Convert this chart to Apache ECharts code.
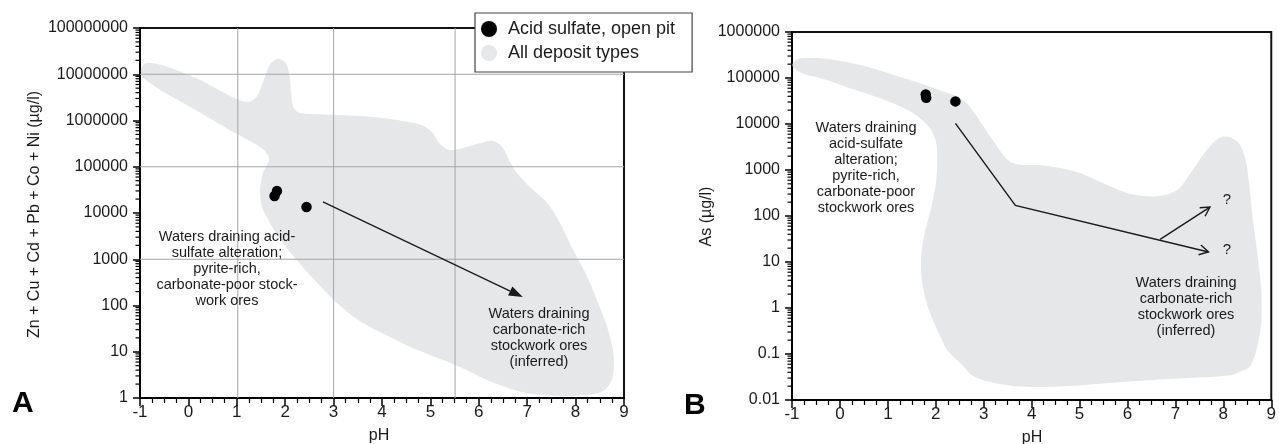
<!DOCTYPE html>
<html><head><meta charset="utf-8">
<script src="https://cdn.jsdelivr.net/npm/echarts@6/dist/echarts.min.js"></script>
<style>html,body{margin:0;padding:0;background:#fff}#c{width:1279px;height:444px}</style>
</head><body><div id="c"></div>
<script>
// ---------------- data ----------------
const xTickLabels = ['-1','0','1','2','3','4','5','6','7','8','9'];
const yTickLabelsA = ['1','10','100','1000','10000','100000','1000000','10000000','100000000'];
const yTickLabelsB = ['0.01','0.1','1','10','100','1000','10000','100000','1000000'];

// Acid sulfate, open pit samples
const pointsA_pH = [1.78, 1.83, 2.44];
const pointsA_metals = [23300, 30000, 13500];
const pointsB_pH = [1.79, 1.80, 2.41];
const pointsB_As = [43600, 37000, 31000];

// All deposit types field outlines
const fieldA_pH = [-0.98,-0.92,-0.75,-0.38,0.24,0.86,1.23,1.42,1.56,1.69,1.85,2.00,2.08,2.12,2.16,2.26,2.51,3.07,3.75,4.43,4.83,5.03,5.20,5.40,5.69,6.02,6.29,6.48,6.62,6.79,7.06,7.41,7.68,7.95,8.24,8.44,8.65,8.77,8.79,8.73,8.57,8.26,7.78,7.26,6.75,6.17,5.61,5.26,4.72,4.17,3.61,3.07,2.66,2.24,1.95,1.69,1.52,1.48,1.54,1.67,1.58,1.38,0.86,0.18,-0.52,-0.86,-0.96];
const fieldA_metals = [1.23e7,1.66e7,1.74e7,1.38e7,7.59e6,3.39e6,2.51e6,3.39e6,7.59e6,1.66e7,2.14e7,1.82e7,1.07e7,4.17e6,2.04e6,1.51e6,1.38e6,1.32e6,1.20e6,9.77e5,7.94e5,5.62e5,3.09e5,2.29e5,2.57e5,3.24e5,3.63e5,2.69e5,1.41e5,7.24e4,3.63e4,1.66e4,6030,1580,417,132,34.7,11.0,4.47,2.24,1.41,1.16,1.10,1.16,1.48,2.45,4.68,6.61,11.0,20.9,41.7,112,309,955,2240,6030,1.35e4,3.16e4,7.24e4,1.41e5,2.19e5,3.09e5,6.17e5,1.62e6,4.17e6,7.24e6,9.12e6];
const fieldB_pH = [-0.83,-0.21,0.48,1.17,1.72,2.20,2.48,2.69,2.96,3.24,3.51,3.72,4.27,4.96,5.52,6.07,6.62,7.03,7.31,7.59,7.86,8.07,8.31,8.45,8.54,8.61,8.72,8.79,8.79,8.69,8.55,8.34,8.14,7.45,6.41,5.38,4.48,3.65,3.10,2.75,2.55,2.27,2.13,1.86,1.72,1.69,1.75,1.89,2.00,2.03,2.00,1.86,1.51,0.96,0.27,-0.35,-0.77,-0.94,-0.99];
const fieldB_As = [2.69e5,2.57e5,1.86e5,1.12e5,7.41e4,4.90e4,3.80e4,2.51e4,1.0e4,3720,1620,1320,1260,891,501,302,269,363,832,2240,4570,5370,3980,1910,501,95.5,12.9,2.45,0.457,0.122,0.0525,0.0407,0.0347,0.0309,0.0269,0.0224,0.0195,0.0200,0.0251,0.0347,0.0575,0.110,0.200,0.891,3.39,11.0,34.7,132,501,1620,4370,8510,1.78e4,3.24e4,5.75e4,9.55e4,1.23e5,1.58e5,2.00e5];

// reference grid lines in panel A
const gridLinesA_pH = [1.02, 3.0, 5.51];
const gridLinesA_metals = [1000, 100000, 10000000];

// trend arrows
const arrowA_pH = [2.78, 6.91];
const arrowA_metals = [17400, 152];
const arrowB_pH = [2.41, 3.66, 7.69];
const arrowB_As = [10350, 170, 16.5];
const arrowB2_pH = [6.68, 7.72];
const arrowB2_As = [31, 156];

// ---------------- chart ----------------
const FONT = '"Liberation Sans", Arial, Helvetica, sans-serif';
const INK = '#1a1a1a';
const FIELD = '#e6e7e8';

const chart = echarts.init(document.getElementById('c'), null, {renderer: 'canvas'});

function xAxisCfg(gi) {
  return {
    type: 'value', gridIndex: gi, min: -1, max: 9, interval: 1,
    axisLine: {show: true, onZero: false, lineStyle: {color: '#000', width: 2}},
    axisTick: {show: true, length: 8, lineStyle: {color: '#000', width: 1.5}},
    minorTick: {show: true, splitNumber: 4, length: 5, lineStyle: {color: '#000', width: 1.2}},
    splitLine: {show: false},
    axisLabel: {margin: 6, fontSize: 17, color: INK, fontFamily: FONT,
      formatter: v => xTickLabels[Math.round(v) + 1]}
  };
}
function yAxisCfg(gi, minExp, maxExp, labels) {
  return {
    type: 'log', gridIndex: gi, logBase: 10,
    min: Math.pow(10, minExp), max: Math.pow(10, maxExp), splitNumber: maxExp - minExp,
    axisLine: {show: true, onZero: false, lineStyle: {color: '#000', width: 2}},
    axisTick: {show: true, length: 7, lineStyle: {color: '#000', width: 1.5}},
    splitLine: {show: false},
    axisLabel: {margin: 12, fontSize: 16, color: INK, fontFamily: FONT, showMinLabel: true, showMaxLabel: true,
      formatter: v => labels[Math.round(Math.log10(v)) - minExp]}
  };
}
function fieldSeries(gi, xs, ys) {
  return {
    type: 'custom', name: 'All deposit types', xAxisIndex: gi, yAxisIndex: gi, z: 1, silent: true,
    itemStyle: {color: FIELD},
    data: [[xs[0], ys[0]]],
    renderItem: (p, api) => ({
      type: 'polygon',
      shape: {points: xs.map((x, i) => api.coord([x, ys[i]])), smooth: 0.3},
      style: {fill: FIELD}
    })
  };
}
function gridLineSeries(gi, xs, ys, xr, yr) {
  return {
    type: 'custom', xAxisIndex: gi, yAxisIndex: gi, z: 2, silent: true,
    data: [[xr[0], yr[0]]],
    renderItem: (p, api) => {
      const ch = [];
      xs.forEach(x => {
        const a = api.coord([x, yr[0]]), b = api.coord([x, yr[1]]);
        ch.push({type: 'line', shape: {x1: a[0], y1: a[1], x2: b[0], y2: b[1]}, style: {stroke: '#a3a5a8', lineWidth: 1}});
      });
      ys.forEach(y => {
        const a = api.coord([xr[0], y]), b = api.coord([xr[1], y]);
        ch.push({type: 'line', shape: {x1: a[0], y1: a[1], x2: b[0], y2: b[1]}, style: {stroke: '#a3a5a8', lineWidth: 1}});
      });
      return {type: 'group', children: ch};
    }
  };
}
function minorLogTicks(gi, xMin, minExp, maxExp) {
  return {
    type: 'custom', xAxisIndex: gi, yAxisIndex: gi, z: 5, silent: true, clip: false,
    data: [[xMin, Math.pow(10, minExp)]],
    renderItem: (p, api) => {
      const ch = [];
      for (let e = minExp; e < maxExp; e++) for (let m = 2; m <= 9; m++) {
        const c = api.coord([xMin, m * Math.pow(10, e)]);
        ch.push({type: 'line', shape: {x1: c[0] - 4.5, y1: c[1], x2: c[0], y2: c[1]}, style: {stroke: '#000', lineWidth: 1.2}});
      }
      return {type: 'group', children: ch};
    }
  };
}
function arrowSeries(gi, xs, ys, head) {
  return {
    type: 'custom', xAxisIndex: gi, yAxisIndex: gi, z: 3, silent: true, clip: false,
    data: [[xs[0], ys[0]]],
    renderItem: (p, api) => {
      const pts = xs.map((x, i) => api.coord([x, ys[i]]));
      const n = pts.length, tip = pts[n - 1], prev = pts[n - 2];
      const dx = tip[0] - prev[0], dy = tip[1] - prev[1], L = Math.hypot(dx, dy);
      const ux = dx / L, uy = dy / L;
      const hl = head === 'filled' ? 14 : 9, hw = 5;
      const bx = tip[0] - ux * hl, by = tip[1] - uy * hl;
      const left = [bx - uy * hw, by + ux * hw], right = [bx + uy * hw, by - ux * hw];
      const ch = [];
      if (head === 'filled') {
        ch.push({type: 'polyline', shape: {points: pts.slice(0, n - 1).concat([[bx, by]])}, style: {stroke: INK, lineWidth: 1.3, fill: null}});
        ch.push({type: 'polygon', shape: {points: [tip, left, right]}, style: {fill: INK}});
      } else {
        ch.push({type: 'polyline', shape: {points: pts}, style: {stroke: INK, lineWidth: 1.4, fill: null}});
        ch.push({type: 'polyline', shape: {points: [left, tip, right]}, style: {stroke: INK, lineWidth: 1.4, fill: null}});
      }
      return {type: 'group', children: ch};
    }
  };
}
function pointSeries(gi, xs, ys) {
  return {
    type: 'scatter', name: 'Acid sulfate, open pit', xAxisIndex: gi, yAxisIndex: gi, z: 4,
    symbol: 'circle', symbolSize: 10.5, itemStyle: {color: '#000', opacity: 1}, silent: true,
    data: xs.map((x, i) => [x, ys[i]])
  };
}
function txt(x, y, text, extra) {
  return Object.assign({type: 'text', x: x, y: y, z: 100, silent: true,
    style: Object.assign({text: text, fill: INK, fontFamily: FONT, fontSize: 14.5, lineHeight: 16,
      align: 'center', verticalAlign: 'top'}, extra || {})});
}

const option = {
  animation: false,
  backgroundColor: '#fff',
  grid: [
    {left: 140, top: 28, width: 484, height: 370, show: true, borderColor: '#111', borderWidth: 2, backgroundColor: 'transparent'},
    {left: 792, top: 32, width: 483, height: 368, show: true, borderColor: '#111', borderWidth: 2, backgroundColor: 'transparent'}
  ],
  xAxis: [xAxisCfg(0), xAxisCfg(1)],
  yAxis: [yAxisCfg(0, 0, 8, yTickLabelsA), yAxisCfg(1, -2, 6, yTickLabelsB)],
  legend: {
    left: 475, top: 13, orient: 'vertical',
    backgroundColor: '#fff', borderColor: '#444', borderWidth: 1.2,
    padding: [5, 17, 8, 6], itemGap: 2, itemWidth: 16, itemHeight: 16,
    textStyle: {fontSize: 18, color: INK, fontFamily: FONT, lineHeight: 22, padding: [0, 0, 0, 6]},
    selectedMode: false,
    data: [
      {name: 'Acid sulfate, open pit', icon: 'circle', itemStyle: {color: '#000', opacity: 1}},
      {name: 'All deposit types', icon: 'circle', itemStyle: {color: FIELD}}
    ]
  },
  series: [
    fieldSeries(0, fieldA_pH, fieldA_metals),
    fieldSeries(1, fieldB_pH, fieldB_As),
    gridLineSeries(0, gridLinesA_pH, gridLinesA_metals, [-1, 9], [1, 1e8]),
    arrowSeries(0, arrowA_pH, arrowA_metals, 'filled'),
    arrowSeries(1, arrowB_pH, arrowB_As, 'open'),
    arrowSeries(1, arrowB2_pH, arrowB2_As, 'open'),
    pointSeries(0, pointsA_pH, pointsA_metals),
    pointSeries(1, pointsB_pH, pointsB_As),
    minorLogTicks(0, -1, 0, 8),
    minorLogTicks(1, -1, -2, 6)
  ],
  graphic: [
    txt(12, 404, 'A', {fontSize: 30, fontWeight: 'bold', align: 'left', verticalAlign: 'middle', fill: '#000'}),
    txt(684, 406, 'B', {fontSize: 30, fontWeight: 'bold', align: 'left', verticalAlign: 'middle', fill: '#000'}),
    Object.assign(txt(35, 214.5, 'Zn + Cu + Cd + Pb + Co + Ni (µg/l)', {fontSize: 16, verticalAlign: 'middle'}), {rotation: Math.PI / 2}),
    Object.assign(txt(707, 216.5, 'As (µg/l)', {fontSize: 16, verticalAlign: 'middle'}), {rotation: Math.PI / 2}),
    txt(379, 436, 'pH', {fontSize: 16, verticalAlign: 'middle'}),
    txt(1032, 438, 'pH', {fontSize: 16, verticalAlign: 'middle'}),
    txt(227, 229, 'Waters draining acid-\nsulfate alteration;\npyrite-rich,\ncarbonate-poor stock-\nwork ores'),
    txt(539, 306, 'Waters draining\ncarbonate-rich\nstockwork ores\n(inferred)'),
    txt(866, 119.5, 'Waters draining\nacid-sulfate\nalteration;\npyrite-rich,\ncarbonate-poor\nstockwork ores'),
    txt(1186, 274.5, 'Waters draining\ncarbonate-rich\nstockwork ores\n(inferred)'),
    txt(1227, 200, '?', {fontSize: 15, verticalAlign: 'middle'}),
    txt(1227, 250, '?', {fontSize: 15, verticalAlign: 'middle'})
  ]
};
chart.setOption(option);
</script>
</body></html>
